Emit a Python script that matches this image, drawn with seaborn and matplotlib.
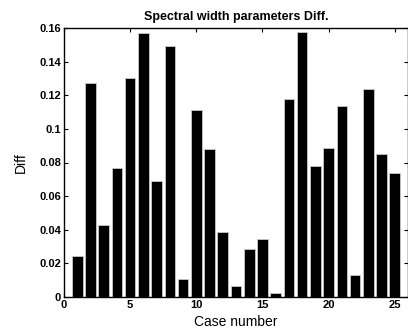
import numpy as np
import pandas as pd
import matplotlib
matplotlib.use('Agg')
import matplotlib.pyplot as plt
import seaborn as sns

# values
cases = list(range(1, 26))
diff = [0.0246, 0.1273, 0.0428, 0.0765, 0.1305, 0.1570, 0.0690, 0.1490, 0.0107,
        0.1112, 0.0880, 0.0388, 0.0067, 0.0286, 0.0345, 0.0026, 0.1178, 0.1575,
        0.0782, 0.0886, 0.1136, 0.0131, 0.1235, 0.0850, 0.0735]
xticks = [0, 5, 10, 15, 20, 25]
yticks = [0, 0.02, 0.04, 0.06, 0.08, 0.1, 0.12, 0.14, 0.16]
ytick_labels = ['0', '0.02', '0.04', '0.06', '0.08', '0.1', '0.12', '0.14', '0.16']

df = pd.DataFrame({'case': cases, 'diff': diff})

sns.set_style('white')
plt.rcParams['font.family'] = ['Liberation Sans', 'DejaVu Sans']
plt.rcParams['text.color'] = 'black'
plt.rcParams['axes.labelcolor'] = 'black'
plt.rcParams['xtick.color'] = 'black'
plt.rcParams['ytick.color'] = 'black'

fig = plt.figure(figsize=(4.08, 3.34), dpi=100)
ax = fig.add_axes([64 / 408, 37 / 334, 344 / 408, 269 / 334])

sns.barplot(data=df, x='case', y='diff', native_scale=True, color='black',
            saturation=1, width=0.8, edgecolor='#c8c8c8', linewidth=0.6, ax=ax)

ax.set_xlim(0, 26)
ax.set_ylim(0, 0.16)
ax.set_xticks(xticks)
ax.set_xticklabels([str(t) for t in xticks], fontweight='bold', fontsize=8)
ax.set_yticks(yticks)
ax.set_yticklabels(ytick_labels, fontweight='bold', fontsize=8)
ax.tick_params(direction='in', length=3, width=0.8, top=True, right=True,
               bottom=True, left=True, pad=2)

for s in ax.spines.values():
    s.set_visible(True)
    s.set_color('black')
    s.set_linewidth(1.0)

ax.set_xlabel('Case number', fontsize=10, labelpad=4)
ax.set_ylabel('Diff', fontsize=10, labelpad=8)
ax.set_title('Spectral width parameters Diff.', fontsize=9, fontweight='bold', pad=6)

plt.savefig('out.png', dpi=100)
